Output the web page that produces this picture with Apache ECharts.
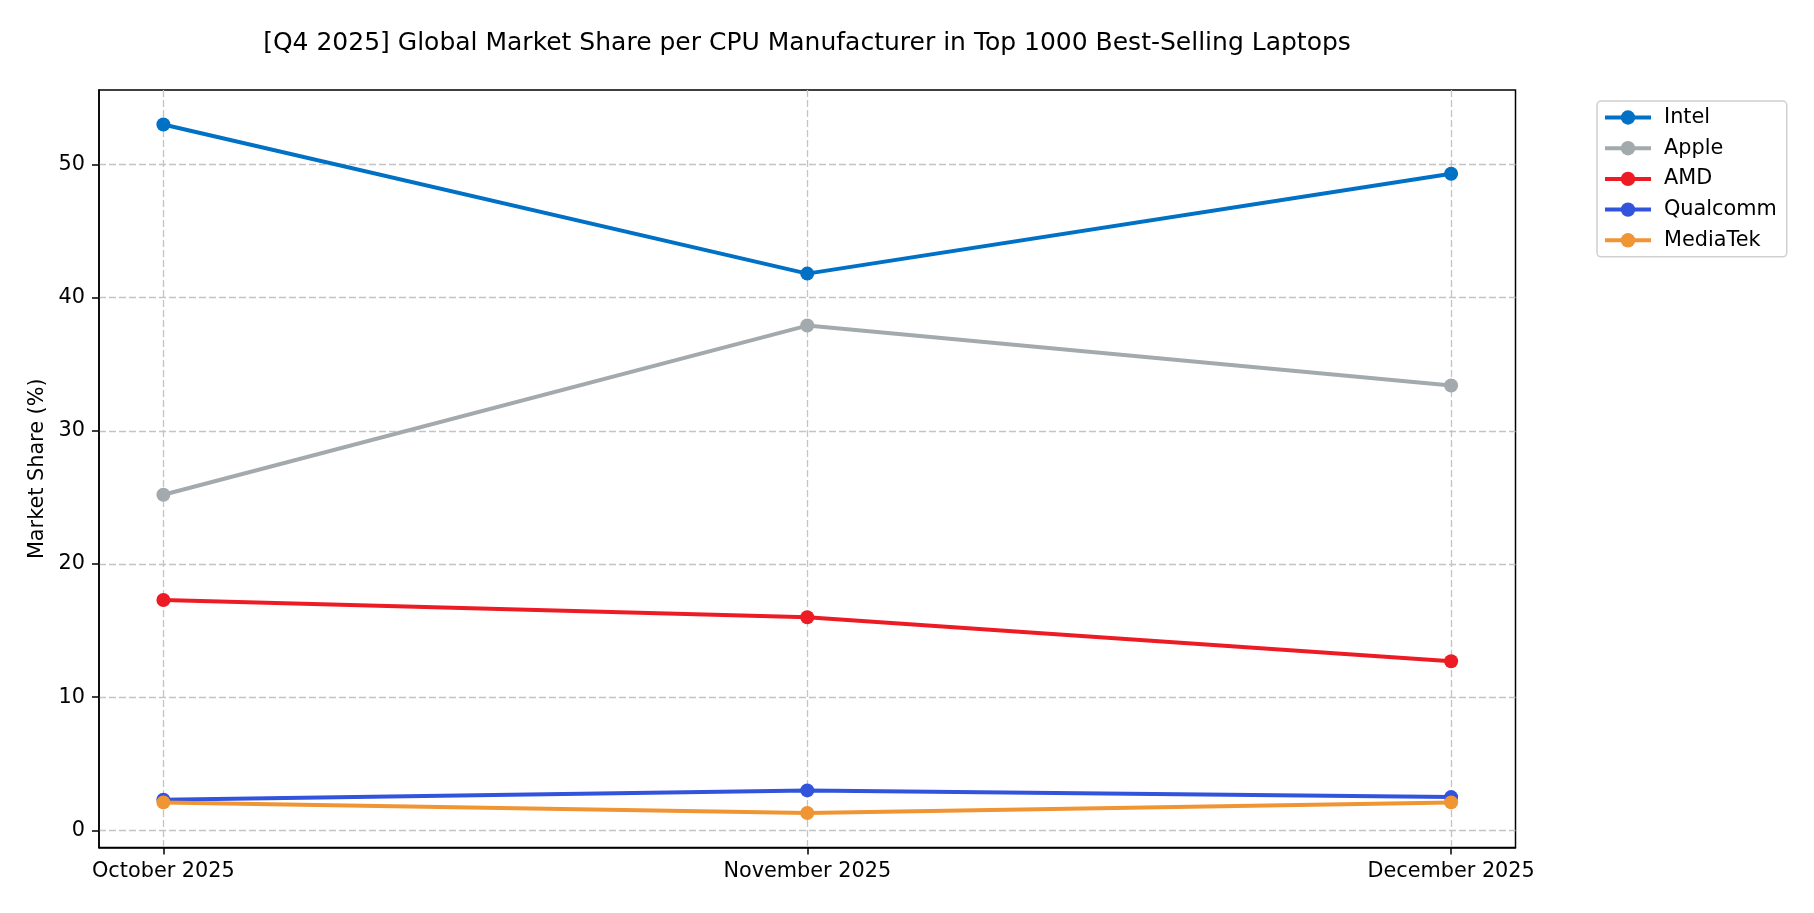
<!DOCTYPE html>
<html>
<head>
<meta charset="utf-8">
<script src="https://cdn.jsdelivr.net/npm/echarts@6/dist/echarts.min.js"></script>
<style>html,body{margin:0;padding:0;background:#fff;}#chart{width:1814px;height:913px;}</style>
</head>
<body>
<div id="chart"></div>
<script>
const months = ['October 2025', 'November 2025', 'December 2025'];
const intel = [53.0, 41.8, 49.3];
const apple = [25.2, 37.9, 33.4];
const amd = [17.3, 16.0, 12.7];
const qualcomm = [2.3, 3.0, 2.5];
const mediatek = [2.1, 1.3, 2.1];
const yTicks = [0, 10, 20, 30, 40, 50];
const seriesNames = ['Intel', 'Apple', 'AMD', 'Qualcomm', 'MediaTek'];
const seriesColors = ['#0071c5', '#a2aaad', '#ed1c24', '#3253dc', '#ef9533'];
const seriesValues = [intel, apple, amd, qualcomm, mediatek];

const FONT = 'DejaVu Sans';
const chart = echarts.init(document.getElementById('chart'), null, {renderer: 'canvas'});
const series = seriesNames.map((n, i) => ({
  name: n,
  type: 'line',
  data: seriesValues[i].map((v, j) => [j, v]),
  symbol: 'circle',
  symbolSize: 14,
  color: seriesColors[i],
  lineStyle: {width: 4, color: seriesColors[i]},
  itemStyle: {color: seriesColors[i]},
  emphasis: {disabled: true}
}));
chart.setOption({
  animation: false,
  backgroundColor: '#fff',
  textStyle: {fontFamily: FONT},
  title: {
    text: '[Q4 2025] Global Market Share per CPU Manufacturer in Top 1000 Best-Selling Laptops',
    left: 802, top: 26, textAlign: 'center',
    textStyle: {fontFamily: FONT, fontSize: 25, fontWeight: 'normal', color: '#000'}
  },
  legend: {
    orient: 'vertical',
    left: 1597, top: 101,
    data: seriesNames,
    itemWidth: 46, itemHeight: 18, itemGap: 9.7,
    padding: [6, 10, 6, 6],
    lineStyle: {width: 4},
    borderColor: '#d0d0d0', borderWidth: 1.5, borderRadius: 4,
    textStyle: {fontFamily: FONT, fontSize: 20.8, color: '#000', lineHeight: 21, padding: [0, 0, 0, 8]}
  },
  grid: {
    left: 99, right: 298.5, top: 90, bottom: 65.5,
    show: true, borderColor: '#000', borderWidth: 1.5, backgroundColor: 'transparent'
  },
  xAxis: {
    type: 'value', min: -0.1, max: 2.1,
    axisLine: {show: true, onZero: false, lineStyle: {color: '#000', width: 1.5}},
    axisTick: {show: true, customValues: [0, 1, 2], length: 7, lineStyle: {color: '#000', width: 1.5}},
    axisLabel: {customValues: [0, 1, 2], formatter: v => months[Math.round(v)] || '', margin: 14,
      fontFamily: FONT, fontSize: 20.8, color: '#000'},
    splitLine: {show: true, lineStyle: {color: '#c4c4c4', width: 1.3, type: [7, 3]}}
  },
  yAxis: {
    type: 'value', min: -1.285, max: 55.585,
    name: 'Market Share (%)', nameLocation: 'middle', nameGap: 49.5,
    nameTextStyle: {fontFamily: FONT, fontSize: 20.8, color: '#000'},
    axisLine: {show: true, onZero: false, lineStyle: {color: '#000', width: 1.5}},
    axisTick: {show: true, customValues: yTicks, length: 7, lineStyle: {color: '#000', width: 1.5}},
    axisLabel: {customValues: yTicks, margin: 14, fontFamily: FONT, fontSize: 20.8, color: '#000'},
    splitLine: {show: true, lineStyle: {color: '#c4c4c4', width: 1.3, type: [7, 3]}}
  },
  series: series
});
</script>
</body>
</html>
